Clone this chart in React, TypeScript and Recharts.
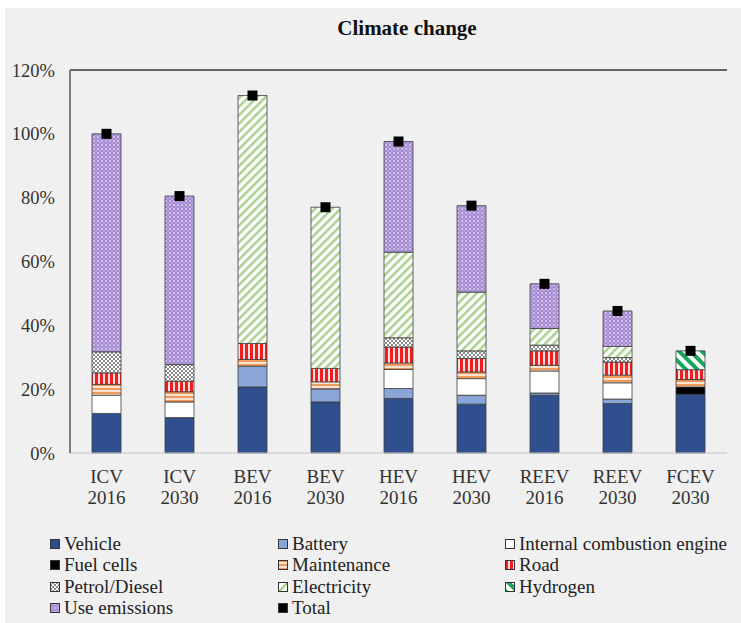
import { ComposedChart, Bar, Line, XAxis, YAxis, CartesianGrid, ReferenceLine } from "recharts";

const categories = ["ICV 2016", "ICV 2030", "BEV 2016", "BEV 2030", "HEV 2016", "HEV 2030", "REEV 2016", "REEV 2030", "FCEV 2030"];
const vehicle = [12.4, 11.1, 20.7, 16.0, 17.1, 15.3, 18.1, 15.5, 18.4];
const battery = [0, 0, 6.5, 4.1, 3.1, 2.8, 0.7, 1.4, 0];
const ice = [5.7, 4.9, 0, 0, 6.0, 5.2, 6.9, 5.1, 0];
const fuelCells = [0, 0, 0, 0, 0, 0, 0, 0, 2.3];
const maintenance = [3.4, 3.2, 2.1, 2.2, 2.0, 2.1, 1.8, 2.4, 2.3];
const road = [3.6, 3.3, 5.0, 4.2, 5.0, 4.2, 4.5, 4.1, 3.1];
const petrol = [6.6, 5.2, 0, 0, 2.9, 2.4, 1.8, 1.4, 0];
const electricity = [0, 0, 77.7, 50.5, 26.8, 18.4, 5.2, 3.5, 0];
const hydrogen = [0, 0, 0, 0, 0, 0, 0, 0, 5.9];
const useEmissions = [68.3, 52.8, 0, 0, 34.7, 27.1, 14.0, 11.1, 0];
const total = [100, 80.5, 112, 77, 97.6, 77.5, 53, 44.5, 32];
const yTicks = [0, 20, 40, 60, 80, 100, 120];

const series = [
    { key: "vehicle", name: "Vehicle", values: vehicle, fill: "#2f4f8f" },
    { key: "battery", name: "Battery", values: battery, fill: "#8aa5d8" },
    { key: "ice", name: "Internal combustion engine", values: ice, fill: "#ffffff" },
    { key: "fuelCells", name: "Fuel cells", values: fuelCells, fill: "#000000" },
    { key: "maintenance", name: "Maintenance", values: maintenance, fill: "url(#pMaint)" },
    { key: "road", name: "Road", values: road, fill: "url(#pRoad)" },
    { key: "petrol", name: "Petrol/Diesel", values: petrol, fill: "url(#pPetrol)" },
    { key: "electricity", name: "Electricity", values: electricity, fill: "url(#pElec)" },
    { key: "hydrogen", name: "Hydrogen", values: hydrogen, fill: "url(#pHydro)" },
    { key: "use", name: "Use emissions", values: useEmissions, fill: "url(#pUse)" },
];

const legendOrder = ["vehicle", "battery", "ice", "fuelCells", "maintenance", "road", "petrol", "electricity", "hydrogen", "use", "total"];

const data = categories.map((c, i) => {
    const row: any = { name: c, total: total[i] };
    series.forEach((s) => (row[s.key] = s.values[i]));
    return row;
});

const font = "'Liberation Serif', 'Times New Roman', serif";

function XTick({ x, y, payload }: any) {
    const [a, b] = String(payload.value).split(" ");
    return (
        <text textAnchor="middle" fontFamily={font} fontSize={19} fill="#333">
            <tspan x={x} y={y + 30}>{a}</tspan>
            <tspan x={x} y={y + 51}>{b}</tspan>
        </text>
    );
}

function TotalDot({ cx, cy }: any) {
    if (cx == null || cy == null) return null;
    return <rect x={cx - 5} y={cy - 5} width={10} height={10} fill="#000" />;
}

function Patterns() {
    return (
        <svg width={0} height={0} style={{ position: "absolute" }}>
            <defs>
                <pattern id="pMaint" width={4} height={4} patternUnits="userSpaceOnUse">
                    <rect width={4} height={4} fill="#fbe3d2" />
                    <rect y={0} width={4} height={2} fill="#ef9a5c" />
                </pattern>
                <pattern id="pRoad" width={5} height={5} patternUnits="userSpaceOnUse">
                    <rect width={5} height={5} fill="#ffe0e0" />
                    <rect x={0} width={3} height={5} fill="#f01e1e" />
                </pattern>
                <pattern id="pPetrol" width={4} height={4} patternUnits="userSpaceOnUse">
                    <rect width={4} height={4} fill="#8a8a8a" />
                    <rect x={0} y={0} width={2} height={2} fill="#ffffff" />
                    <rect x={2} y={2} width={2} height={2} fill="#ffffff" />
                </pattern>
                <pattern id="pElec" width={6} height={6} patternUnits="userSpaceOnUse" patternTransform="rotate(45)">
                    <rect width={6} height={6} fill="#ffffff" />
                    <rect x={0} width={2.5} height={6} fill="#a9d18e" />
                </pattern>
                <pattern id="pHydro" width={8} height={8} patternUnits="userSpaceOnUse" patternTransform="rotate(-45)">
                    <rect width={8} height={8} fill="#ffffff" />
                    <rect x={0} width={4} height={8} fill="#16a85a" />
                </pattern>
                <pattern id="pUse" width={4} height={4} patternUnits="userSpaceOnUse">
                    <rect width={4} height={4} fill="#a68bd4" />
                    <circle cx={1} cy={1} r={0.8} fill="#ffffff" />
                    <circle cx={3} cy={3} r={0.6} fill="#e8e0f5" />
                </pattern>
            </defs>
        </svg>
    );
}

export default function App() {
    const legendItems = legendOrder.map((k) => {
        if (k === "total") return { name: "Total", fill: "#000" };
        const s = series.find((x) => x.key === k)!;
        return { name: s.name, fill: s.fill };
    });
    const colX = [45, 273, 500];
    return (
        <div style={{ position: "absolute", left: 5, top: 8, width: 736, height: 615, background: "#f0f0f0", fontFamily: font }}>
            <Patterns />
            <div style={{ position: "absolute", left: 0, width: 804, top: 8, textAlign: "center", fontSize: 21, fontWeight: "bold", color: "#111" }}>
                Climate change
            </div>
            <div style={{ position: "absolute", left: 0, top: 0 }}>
                <ComposedChart width={736} height={520} data={data} margin={{ top: 62, right: 14, left: 0, bottom: 0 }}>
                    <CartesianGrid vertical={false} stroke="#d9d9d9" strokeWidth={1.2} />
                    <XAxis dataKey="name" height={75} tickLine={false} tickSize={0} tickMargin={0} axisLine={{ stroke: "#cfcfcf", strokeWidth: 1.2 }} tick={<XTick />} interval={0} />
                    <YAxis yAxisId="l" width={65} domain={[0, 120]} ticks={yTicks} tickFormatter={(v) => v + "%"} tickLine={false} tickSize={0} tickMargin={15} axisLine={{ stroke: "#7f7f7f", strokeWidth: 2 }} tick={{ fill: "#333", fontSize: 18.5, fontFamily: font }} />
                    <YAxis yAxisId="r" orientation="right" width={0} domain={[0, 120]} ticks={yTicks} tick={false} tickLine={false} axisLine={{ stroke: "#5a5a5a", strokeWidth: 1.5 }} />
                    <ReferenceLine yAxisId="l" y={120} stroke="#3a3a3a" strokeWidth={1.5} />
                    {series.map((s) => (
                        <Bar key={s.key} yAxisId="l" dataKey={s.key} name={s.name} stackId="a" barSize={29} fill={s.fill} stroke="#3c3c3c" strokeWidth={0.8} isAnimationActive={false} />
                    ))}
                    <Line yAxisId="l" dataKey="total" name="Total" stroke="none" dot={<TotalDot />} activeDot={false} isAnimationActive={false} />
                </ComposedChart>
            </div>
            {legendItems.map((it, i) => {
                const row = Math.floor(i / 3);
                const col = i % 3;
                return (
                    <div key={it.name} style={{ position: "absolute", left: colX[col], top: 526 + row * 21.3, height: 20, display: "flex", alignItems: "center", fontSize: 19, color: "#222", whiteSpace: "nowrap" }}>
                        <svg width={10} height={10} style={{ marginRight: 4 }}>
                            <rect x={0.5} y={0.5} width={9} height={9} fill={it.fill} stroke="#333" strokeWidth={1} />
                        </svg>
                        {it.name}
                    </div>
                );
            })}
        </div>
    );
}
